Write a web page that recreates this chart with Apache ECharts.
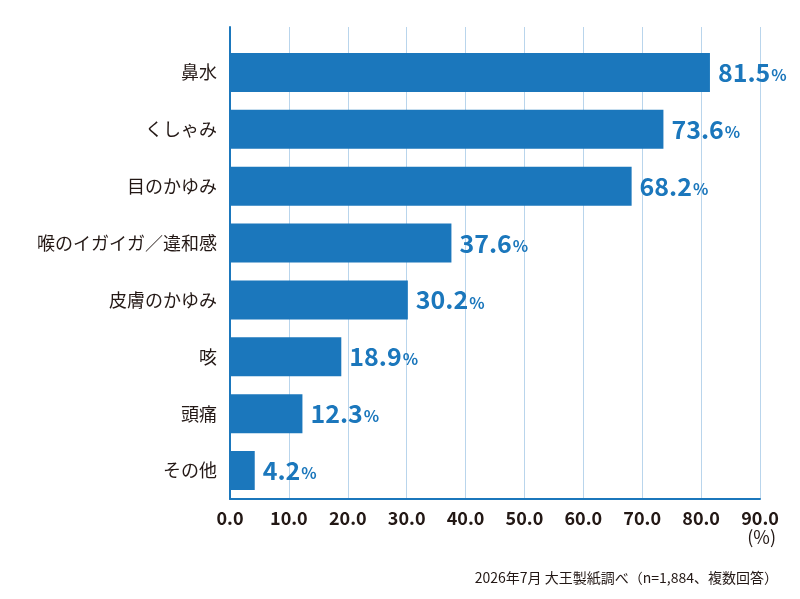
<!DOCTYPE html>
<html>
<head>
<meta charset="utf-8">
<script src="https://cdn.jsdelivr.net/npm/echarts@6/dist/echarts.min.js"></script>
<style>
  html, body { margin: 0; padding: 0; background: #fff; }
  #main { width: 800px; height: 599px; }
</style>
</head>
<body>
<div id="main"></div>
<script>
// 症状と割合（%）
const categories = ['鼻水', 'くしゃみ', '目のかゆみ', '喉のイガイガ／違和感', '皮膚のかゆみ', '咳', '頭痛', 'その他'];
const values = [81.5, 73.6, 68.2, 37.6, 30.2, 18.9, 12.3, 4.2];
const xTicks = { min: 0, max: 90, interval: 10 };

const FONT = '"Noto Sans CJK JP", "Noto Sans", sans-serif';
const BLUE = '#1b77bc';
const TEXT = '#231815';

var myChart = echarts.init(document.getElementById('main'));
myChart.setOption({
  animation: false,
  textStyle: { fontFamily: FONT },
  grid: [
    { left: 230, right: 40, top: 44, bottom: 100 },
    { left: 230, right: 40, top: 27, bottom: 100 }
  ],
  xAxis: [
    {
      type: 'value', gridIndex: 0,
      min: xTicks.min, max: xTicks.max, interval: xTicks.interval,
      axisLine: { show: true, lineStyle: { color: BLUE, width: 2 } },
      axisTick: { show: false },
      splitLine: { show: false },
      axisLabel: {
        margin: 10,
        color: TEXT, fontSize: 18, fontWeight: 'bold', fontFamily: FONT,
        formatter: function (v) { return v.toFixed(1); }
      }
    },
    {
      type: 'value', gridIndex: 1,
      min: xTicks.min, max: xTicks.max, interval: xTicks.interval,
      axisLine: { show: false },
      axisTick: { show: false },
      axisLabel: { show: false },
      splitLine: { show: true, lineStyle: { color: '#b9d5ec', width: 1 } }
    }
  ],
  yAxis: [
    {
      type: 'category', gridIndex: 0, inverse: true,
      data: categories,
      axisLine: { show: false },
      axisTick: { show: false },
      axisLabel: { margin: 13, color: TEXT, fontSize: 18, fontFamily: FONT }
    },
    {
      type: 'value', gridIndex: 1, min: 0, max: 1,
      axisLine: { show: true, lineStyle: { color: BLUE, width: 2 } },
      axisTick: { show: false },
      axisLabel: { show: false },
      splitLine: { show: false }
    }
  ],
  series: [{
    type: 'bar',
    xAxisIndex: 0, yAxisIndex: 0,
    data: values,
    barWidth: 39,
    z: 3,
    itemStyle: { color: BLUE },
    label: {
      show: true,
      position: 'right',
      distance: 8,
      formatter: function (p) { return '{n|' + p.value.toFixed(1) + '}{p|%}'; },
      rich: {
        n: { color: BLUE, fontSize: 25, fontWeight: 'bold', fontFamily: FONT },
        p: { color: BLUE, fontSize: 16, fontWeight: 'bold', fontFamily: FONT, padding: [5, 0, 0, 1] }
      }
    }
  }],
  graphic: [
    {
      type: 'text', right: 24, top: 528,
      style: { text: '(%)', fill: TEXT, font: '18px ' + FONT }
    },
    {
      type: 'text', right: 22, top: 571,
      style: { text: '2026年7月 大王製紙調べ（n=1,884、複数回答）', fill: TEXT, font: '14px ' + FONT }
    }
  ]
});
</script>
</body>
</html>
